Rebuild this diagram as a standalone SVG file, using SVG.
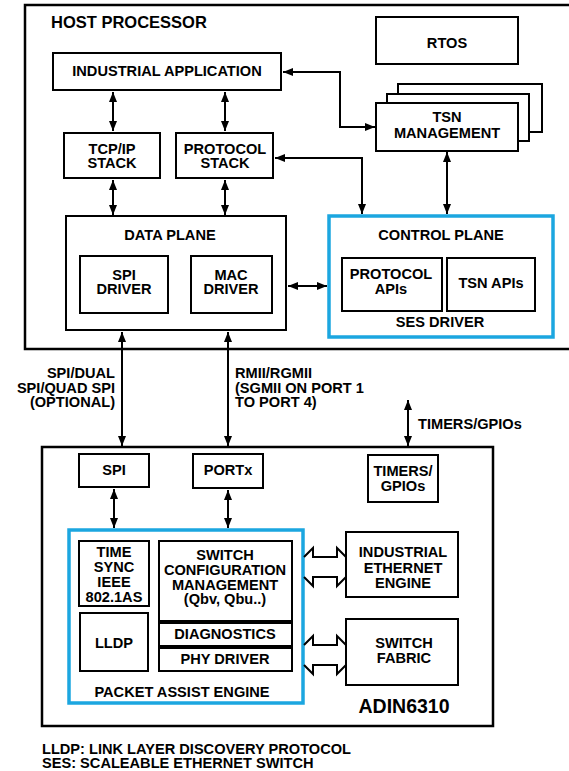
<svg xmlns="http://www.w3.org/2000/svg" width="569" height="771" viewBox="0 0 569 771">
<defs>
<marker id="ah" viewBox="0 0 10 8" refX="10" refY="4" markerWidth="10" markerHeight="8" markerUnits="userSpaceOnUse" orient="auto-start-reverse">
<path d="M0,0 L10,4 L0,8 z" fill="#000"/>
</marker>
<style>
text{font-family:"Liberation Sans",Arial,sans-serif;font-weight:bold;font-size:14.6px;fill:#000}
.c{text-anchor:middle}
.r{text-anchor:end}
.box{fill:#fff;stroke:#000;stroke-width:2}
.outer{fill:none;stroke:#000;stroke-width:2.5}
.blue{fill:none;stroke:#1BA6E0;stroke-width:3.5}
.con{fill:none;stroke:#000;stroke-width:2}
.arr{fill:none;stroke:#000;stroke-width:2;marker-start:url(#ah);marker-end:url(#ah)}
</style>
</defs>
<rect width="569" height="771" fill="#fff"/>

<g id="host">
<rect class="outer" x="25" y="5" width="560" height="344"/>
<text x="51" y="28" style="font-size:16.5px">HOST PROCESSOR</text>
</g>
<g id="industrial-application">
<rect class="box" x="53" y="53" width="228" height="37"/>
<text class="c" x="167" y="76">INDUSTRIAL APPLICATION</text>
</g>
<g id="tcpip">
<rect class="box" x="64" y="133" width="96" height="45"/>
<text class="c" x="112" y="154">TCP/IP</text>
<text class="c" x="112" y="168">STACK</text>
</g>
<g id="protocol-stack">
<rect class="box" x="176" y="133" width="97" height="45"/>
<text class="c" x="225" y="154">PROTOCOL</text>
<text class="c" x="225" y="168">STACK</text>
</g>
<g id="rtos">
<rect class="box" x="376" y="17" width="142" height="47"/>
<text class="c" x="447" y="48">RTOS</text>
</g>
<g id="tsn-management">
<rect class="box" x="398" y="84" width="144" height="48"/>
<rect class="box" x="387" y="94" width="142" height="47"/>
<rect class="box" x="376" y="103" width="142" height="48"/>
<text class="c" x="447" y="122">TSN</text>
<text class="c" x="447" y="138">MANAGEMENT</text>
</g>
<g id="data-plane">
<rect class="box" x="66" y="216" width="220" height="114"/>
<text class="c" x="170" y="240">DATA PLANE</text>
</g>
<g id="spi-driver">
<rect class="box" x="80" y="256" width="88" height="57"/>
<text class="c" x="124" y="280">SPI</text>
<text class="c" x="124" y="294">DRIVER</text>
</g>
<g id="mac-driver">
<rect class="box" x="191" y="256" width="81" height="57"/>
<text class="c" x="231" y="280">MAC</text>
<text class="c" x="231" y="294">DRIVER</text>
</g>
<g id="control-plane">
<rect class="blue" x="329" y="216" width="224" height="121"/>
<text class="c" x="441" y="240">CONTROL PLANE</text>
<text class="c" x="440" y="327">SES DRIVER</text>
</g>
<g id="protocol-apis">
<rect class="box" x="342" y="258" width="100" height="53"/>
<text class="c" x="391" y="279">PROTOCOL</text>
<text class="c" x="391" y="294">APIs</text>
</g>
<g id="tsn-apis">
<rect class="box" x="447" y="258" width="88" height="53"/>
<text class="c" x="491" y="288">TSN APIs</text>
</g>

<g id="adin6310">
<rect class="outer" x="42" y="447" width="451" height="279"/>
<text class="c" x="404" y="713" style="font-size:19.5px">ADIN6310</text>
</g>
<g id="spi">
<rect class="box" x="79" y="454" width="70" height="33"/>
<text class="c" x="114" y="475">SPI</text>
</g>
<g id="portx">
<rect class="box" x="193" y="454" width="70" height="34"/>
<text class="c" x="228" y="475">PORTx</text>
</g>
<g id="timers-gpios">
<rect class="box" x="368" y="455" width="70" height="47"/>
<text class="c" x="403" y="476">TIMERS/</text>
<text class="c" x="403" y="491">GPIOs</text>
</g>
<g id="packet-assist-engine">
<rect class="blue" x="69" y="530" width="234" height="173"/>
<text class="c" x="182" y="697">PACKET ASSIST ENGINE</text>
</g>
<g id="time-sync">
<rect class="box" x="79" y="541" width="70" height="65"/>
<text class="c" x="114" y="557">TIME</text>
<text class="c" x="114" y="572">SYNC</text>
<text class="c" x="114" y="587">IEEE</text>
<text class="c" x="114" y="602">802.1AS</text>
</g>
<g id="lldp">
<rect class="box" x="80" y="613" width="68" height="58"/>
<text class="c" x="114" y="648">LLDP</text>
</g>
<g id="switch-config">
<rect class="box" x="159" y="541" width="133" height="80"/>
<text class="c" x="225" y="560">SWITCH</text>
<text class="c" x="225" y="575">CONFIGURATION</text>
<text class="c" x="225" y="590">MANAGEMENT</text>
<text class="c" x="225" y="604">(Qbv, Qbu..)</text>
</g>
<g id="diagnostics">
<rect class="box" x="159" y="623" width="133" height="23"/>
<text class="c" x="225" y="639">DIAGNOSTICS</text>
</g>
<g id="phy-driver">
<rect class="box" x="159" y="648" width="133" height="23"/>
<text class="c" x="225" y="664">PHY DRIVER</text>
</g>
<g id="industrial-ethernet-engine">
<rect class="box" x="346" y="532" width="112" height="65"/>
<text class="c" x="403" y="557">INDUSTRIAL</text>
<text class="c" x="403" y="573">ETHERNET</text>
<text class="c" x="403" y="588">ENGINE</text>
</g>
<g id="switch-fabric">
<rect class="box" x="346" y="619" width="112" height="66"/>
<text class="c" x="404" y="648">SWITCH</text>
<text class="c" x="404" y="663">FABRIC</text>
</g>

<g id="connectors">
<line class="arr" x1="113" y1="92" x2="113" y2="131"/>
<line class="arr" x1="225" y1="92" x2="225" y2="131"/>
<line class="arr" x1="113" y1="180" x2="113" y2="215"/>
<line class="arr" x1="225" y1="180" x2="225" y2="215"/>
<polyline class="arr" points="283,72 340,72 340,127 375,127"/>
<polyline class="arr" points="275,158 362,158 362,214"/>
<line class="arr" x1="447" y1="152" x2="447" y2="214"/>
<line class="arr" x1="288" y1="286" x2="327" y2="286"/>
<line class="arr" x1="122" y1="332" x2="122" y2="446"/>
<line class="arr" x1="228" y1="332" x2="228" y2="446"/>
<line class="arr" x1="408" y1="400" x2="408" y2="446"/>
<line class="arr" x1="114" y1="489" x2="114" y2="528"/>
<line class="arr" x1="228" y1="490" x2="228" y2="528"/>
<polyline class="con" points="304,557 313,548 313,557 337,557 337,548 346,557"/>
<polyline class="con" points="304,577 313,586 313,577 337,577 337,586 346,577"/>
<polyline class="con" points="304,645 313,636 313,645 337,645 337,636 346,645"/>
<polyline class="con" points="304,665 313,674 313,665 337,665 337,674 346,665"/>
</g>

<g id="labels">
<text class="r" x="115" y="378">SPI/DUAL</text>
<text class="r" x="115" y="393">SPI/QUAD SPI</text>
<text class="r" x="115" y="407">(OPTIONAL)</text>
<text x="235" y="378">RMII/RGMII</text>
<text x="235" y="393">(SGMII ON PORT 1</text>
<text x="235" y="407">TO PORT 4)</text>
<text x="418" y="429">TIMERS/GPIOs</text>
<text x="42" y="754">LLDP: LINK LAYER DISCOVERY PROTOCOL</text>
<text x="42" y="768">SES: SCALEABLE ETHERNET SWITCH</text>
</g>
</svg>
